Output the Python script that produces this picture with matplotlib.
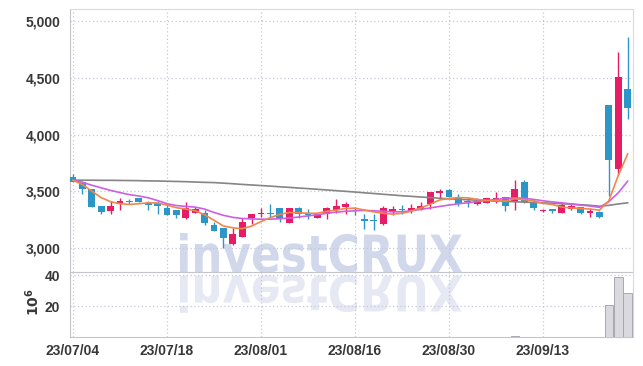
import numpy as np
import matplotlib
matplotlib.use('Agg')
import matplotlib.pyplot as plt
from matplotlib.textpath import TextPath
from matplotlib.patches import PathPatch
from matplotlib.font_manager import FontProperties
from matplotlib.transforms import Affine2D

# trading days (index 0..59), only some labelled
tick_idx = [0, 10, 20, 30, 40, 50]
tick_lbl = ['23/07/04', '23/07/18', '23/08/01', '23/08/16', '23/08/30', '23/09/13']

opens = [3630, 3585, 3525, 3370, 3327, 3392, 3412, 3440, 3400, 3395,
         3350, 3336, 3262, 3313, 3307, 3205, 3180, 3035, 3103, 3263,
         3300, 3306, 3350, 3220, 3350, 3300, 3265, 3298, 3336, 3362,
         3330, 3255, 3252, 3212, 3320, 3338, 3327, 3342, 3392, 3486,
         3512, 3442, 3408, 3392, 3400, 3406, 3450, 3406, 3585, 3406,
         3327, 3342, 3310, 3342, 3362, 3310, 3318, 4263, 3702, 4403]
highs = [3650, 3590, 3525, 3375, 3420, 3440, 3436, 3440, 3415, 3415,
         3380, 3340, 3405, 3362, 3335, 3235, 3180, 3175, 3270, 3305,
         3350, 3392, 3352, 3352, 3365, 3345, 3310, 3365, 3430, 3406,
         3365, 3305, 3300, 3370, 3370, 3380, 3392, 3406, 3494, 3520,
         3520, 3475, 3440, 3444, 3444, 3497, 3455, 3605, 3605, 3436,
         3345, 3342, 3400, 3400, 3366, 3351, 3325, 4263, 4728, 4859]
lows = [3579, 3480, 3360, 3300, 3305, 3335, 3388, 3405, 3335, 3305,
        3290, 3268, 3258, 3310, 3205, 3150, 3005, 3033, 3100, 3215,
        3278, 3272, 3235, 3218, 3270, 3258, 3262, 3258, 3312, 3305,
        3290, 3168, 3165, 3208, 3292, 3304, 3313, 3335, 3348, 3445,
        3448, 3370, 3364, 3385, 3395, 3398, 3325, 3340, 3398, 3336,
        3320, 3307, 3308, 3335, 3304, 3275, 3262, 3456, 3649, 4140]
closes = [3585, 3525, 3362, 3320, 3368, 3420, 3408, 3406, 3382, 3375,
          3292, 3290, 3357, 3342, 3222, 3152, 3088, 3123, 3234, 3304,
          3312, 3302, 3262, 3350, 3300, 3296, 3305, 3350, 3371, 3392,
          3325, 3242, 3243, 3357, 3348, 3334, 3357, 3371, 3494, 3505,
          3450, 3392, 3404, 3416, 3444, 3444, 3372, 3518, 3405, 3354,
          3340, 3328, 3378, 3371, 3310, 3327, 3272, 3781, 4509, 4237]

# moving average lines
ma_short = [3598, 3561, 3503, 3445, 3410, 3392, 3386, 3392, 3400, 3398,
            3380, 3357, 3345, 3330, 3295, 3246, 3196, 3180, 3172, 3195,
            3235, 3270, 3298, 3315, 3313, 3308, 3308, 3325, 3336, 3350,
            3353, 3336, 3320, 3308, 3300, 3308, 3327, 3355, 3388, 3425,
            3438, 3446, 3444, 3430, 3421, 3418, 3415, 3436, 3428, 3416,
            3395, 3385, 3362, 3355, 3350, 3345, 3335, 3418, 3640, 3830]
ma_mid = [3600, 3580, 3555, 3532, 3509, 3490, 3472, 3460, 3444, 3420,
          3392, 3376, 3368, 3362, 3345, 3315, 3290, 3272, 3262, 3258,
          3256, 3256, 3260, 3266, 3275, 3285, 3295, 3308, 3318, 3325,
          3330, 3333, 3330, 3325, 3320, 3322, 3330, 3342, 3355, 3368,
          3380, 3392, 3400, 3412, 3420, 3430, 3438, 3444, 3440, 3430,
          3418, 3408, 3400, 3390, 3380, 3372, 3360, 3410, 3488, 3590]
ma_long = [3600, 3599, 3599, 3598, 3598, 3597, 3596, 3595, 3593, 3592,
           3590, 3588, 3586, 3583, 3580, 3578, 3573, 3568, 3562, 3557,
           3552, 3547, 3541, 3536, 3530, 3525, 3519, 3513, 3507, 3501,
           3495, 3488, 3482, 3475, 3469, 3462, 3457, 3451, 3446, 3440,
           3435, 3431, 3427, 3423, 3419, 3415, 3412, 3409, 3406, 3403,
           3400, 3396, 3392, 3388, 3383, 3378, 3370, 3378, 3390, 3400]

# volume in millions
volume = [0.15, 0.2, 0.25, 0.2, 0.15, 0.1, 0.1, 0.1, 0.15, 0.1,
          0.15, 0.1, 0.2, 0.1, 0.15, 0.2, 0.25, 0.2, 0.2, 0.15,
          0.1, 0.1, 0.15, 0.15, 0.1, 0.1, 0.1, 0.1, 0.15, 0.1,
          0.1, 0.15, 0.1, 0.15, 0.1, 0.1, 0.1, 0.1, 0.2, 0.15,
          0.15, 0.1, 0.1, 0.1, 0.1, 0.15, 0.15, 0.6, 0.3, 0.15,
          0.1, 0.1, 0.1, 0.1, 0.1, 0.1, 0.15, 20.5, 39.0, 28.3]

RED = '#e81c64'
BLUE = '#2c96c8'
GRID = '#c3c8d8'
TXT = '#383838'

plt.rcParams['font.family'] = ['Liberation Sans', 'DejaVu Sans']
plt.rcParams['font.weight'] = 'bold'

W, H = 643, 366
fig = plt.figure(figsize=(W / 100, H / 100), dpi=100)
fig.patch.set_facecolor('white')

# watermark with reflection, in pixel space
fp = FontProperties(family='DejaVu Sans', weight='bold')
tp = TextPath((0, 0), 'investCRUX', prop=fp, size=50)
bb = tp.get_extents()
x0, x1 = 180, 462
top, base = 233, 273
sx = (x1 - x0) / bb.width
sy = (base - top) / bb.height
t_main = Affine2D().translate(-bb.x0, -bb.y0).scale(sx, sy).translate(x0, H - base)
fig.add_artist(PathPatch(tp, transform=t_main, facecolor='#d2d8ec', edgecolor='none', zorder=-5))
t_refl = Affine2D().translate(-bb.x0, -bb.y0).scale(sx, -sy * 0.95).translate(x0, H - base - 2)
fig.add_artist(PathPatch(tp, transform=t_refl, facecolor='#e6e9f3', edgecolor='none', zorder=-5))

left, right = 70, 633
ax = fig.add_axes([left / W, (H - 272) / H, (right - left) / W, (272 - 9) / H])
axv = fig.add_axes([left / W, (H - 337) / H, (right - left) / W, (337 - 272) / H], sharex=ax)
for a in (ax, axv):
    a.set_facecolor('none')

x = np.arange(len(opens))
o = np.array(opens); c = np.array(closes)
up = c >= o
cols = np.where(up, RED, BLUE)

# wicks then bodies
ax.vlines(x, lows, highs, colors=cols, linewidth=1.0, zorder=3)
body_lo = np.minimum(o, c)
body_h = np.maximum(np.abs(c - o), 10)
ax.bar(x, body_h, bottom=body_lo, width=0.72, color=cols, linewidth=0, zorder=4)

ax.plot(x, ma_long, color='#858585', lw=1.2, zorder=5)
ax.plot(x, ma_mid, color='#cc5fe6', lw=1.2, zorder=5)
ax.plot(x, ma_short, color='#f0874c', lw=1.2, zorder=5)

ax.set_ylim(2791, 5106)
ax.set_yticks([3000, 3500, 4000, 4500, 5000])
ax.set_yticklabels(['3,000', '3,500', '4,000', '4,500', '5,000'])
ax.set_xlim(-0.32, 59.57)
ax.set_xticks(tick_idx)

axv.bar(x, volume, width=0.92, color='#d9d9df', edgecolor='#a8a8b4', linewidth=0.7, zorder=3)
axv.set_ylim(0, 42)
axv.set_yticks([20, 40])
axv.set_yticklabels(['20', '40'])
axv.set_xticks(tick_idx)
axv.set_xticklabels(tick_lbl)

for a in (ax, axv):
    a.grid(True, color=GRID, linestyle=(0, (1, 2)), linewidth=0.9)
    a.set_axisbelow(True)
    a.tick_params(length=0, pad=7, labelsize=10, colors=TXT)
    a.spines['left'].set_color('#c4c4c8')
    a.spines['right'].set_color('#dadada')
    a.spines['top'].set_color('#dadada')
    a.spines['bottom'].set_color('#c4c4cc')
ax.tick_params(labelbottom=False)
axv.spines['top'].set_visible(False)
axv.tick_params(axis='x', pad=5)

fig.text(33 / W, (H - 302) / H, r'$10^6$', rotation=90, ha='center', va='center',
         fontsize=10, color=TXT)

plt.savefig('out.png', dpi=100)
